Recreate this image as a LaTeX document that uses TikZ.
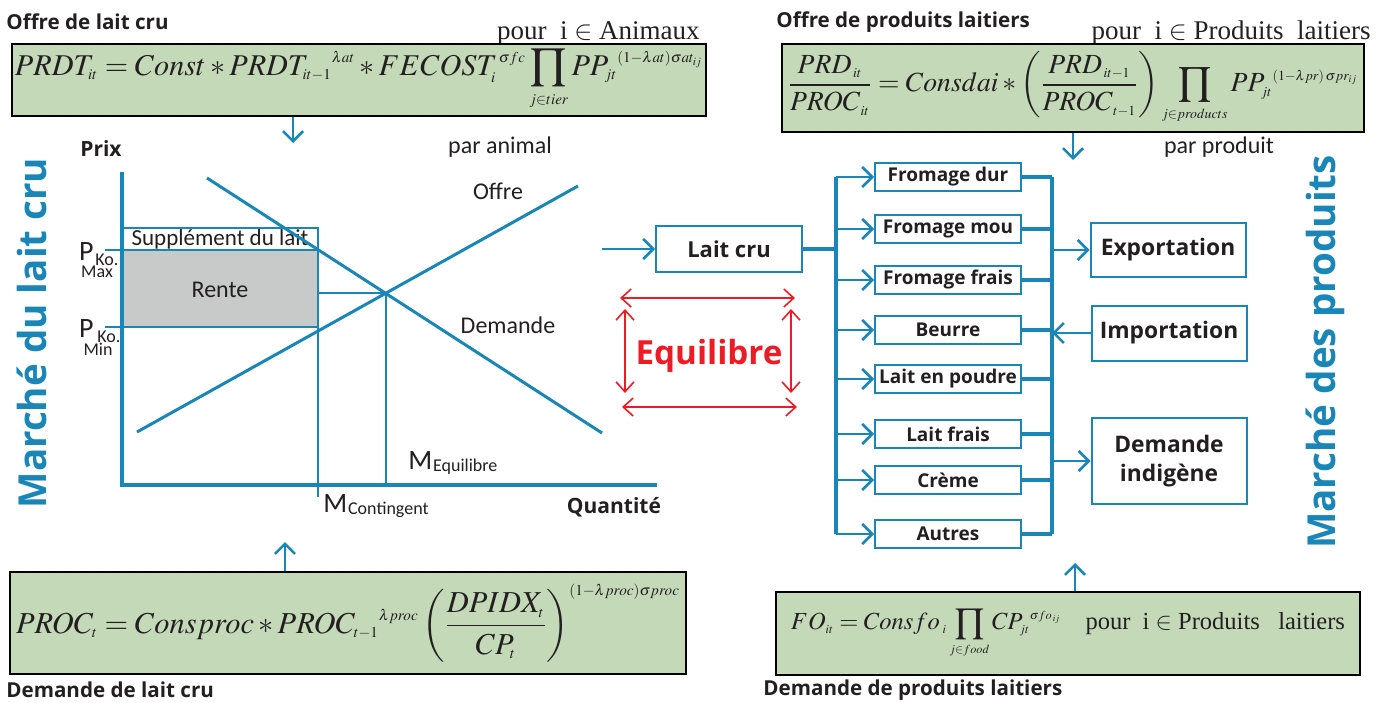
\documentclass[tikz,border=0pt]{standalone}
\usepackage{amsmath}
\usepackage{mathptmx}
\usepackage[no-math]{fontspec}
\usepackage{graphicx}
\usetikzlibrary{arrows.meta}
\setmainfont{Open Sans}
\newfontfamily\chartfont{Carlito}
\newfontfamily\tms{Liberation Serif}
\DeclareMathSizes{16}{16}{8}{6}
\newcommand{\eqsize}{\fontsize{16}{19}\selectfont}
\definecolor{mblue}{RGB}{26,134,184}
\definecolor{mgreen}{RGB}{195,217,184}
\definecolor{mred}{RGB}{237,28,36}
\definecolor{mgray}{RGB}{200,201,201}
\definecolor{mtext}{RGB}{35,31,32}

\begin{document}
\begin{tikzpicture}[x=0.5pt,y=-0.5pt,
    every node/.style={text=mtext,inner sep=0pt},
    eqbox/.style={draw=black,line width=0.8pt,fill=mgreen,font=\eqsize},
    prod/.style={draw=mblue,line width=1pt,minimum width=73pt,minimum height=14pt,font=\fontsize{9.5}{11}\selectfont\bfseries},
    bigbox/.style={draw=mblue,line width=1pt,minimum width=77.5pt,align=center,font=\fontsize{11.4}{14.5}\selectfont\bfseries},
    head/.style={anchor=west,font=\fontsize{10.3}{12}\selectfont\bfseries},
    lab/.style={font=\chartfont\fontsize{12}{14}\selectfont},
    sub/.style={font=\chartfont\fontsize{9}{10}\selectfont},
    big/.style={font=\chartfont\fontsize{14}{16}\selectfont},
    pour/.style={anchor=east,font=\tms\fontsize{13.5}{16}\selectfont},
    title/.style={rotate=90,text=mblue,font=\fontsize{19.3}{23}\selectfont\bfseries},
    flow/.style={draw=mblue,line width=1.3pt,-{Straight Barb[length=5pt,width=10pt]}},
    trunk/.style={draw=mblue,line width=1.75pt},
    guide/.style={draw=mblue,line width=1pt},
    curve/.style={draw=mblue,line width=1.5pt},
    eqarr/.style={draw=mred,line width=0.8pt,{Straight Barb[length=5pt,width=9pt]}-{Straight Barb[length=5pt,width=9pt]}}]

\useasboundingbox (0,0) rectangle (1385,702);

% --- equations of the four blocks ---
\node[head] (offlaitlab) at (6,22) {Offre de lait cru};
\node[pour] (pourani) at (700,33) {pour\ \ i $\in$ Animaux};
\node[eqbox,minimum width=347pt,minimum height=36pt] (offlait) at (359,80)
  {\resizebox{344pt}{!}{$\displaystyle PRDT_{it} = Const * PRDT_{it-1}{}^{\lambda at} * FECOST_i^{\,\sigma fc}\prod_{j\in tier}PP_{jt}{}^{(1-\lambda at)\sigma at_{ij}}$}};

\node[head] (offprodlab) at (776,22) {Offre de produits laitiers};
\node[pour] (pourprod) at (1371,33) {pour\ \ i $\in$ Produits\ \ laitiers};
\node[eqbox,minimum width=291pt,minimum height=44pt] (offprod) at (1073,88)
  {\resizebox{285pt}{!}{$\displaystyle \frac{PRD_{\,it}}{PROC_{\,it}} = Consdai * \left(\frac{PRD_{\,it-1}}{PROC_{\,t-1}}\right)\prod_{j\in products}PP_{jt}{}^{(1-\lambda pr)\,\sigma pr_{ij}}$}};

\node[eqbox,minimum width=338pt,minimum height=51pt] (demlait) at (348,623)
  {\resizebox{332pt}{!}{$\displaystyle PROC_t = Consproc * PROC_{t-1}{}^{\lambda proc}\left(\frac{DPIDX_t}{CP_t}\right)^{(1-\lambda proc)\sigma proc}$}};
\node[head] (demlaitlab) at (6,690) {Demande de lait cru};

\node[eqbox,minimum width=292pt,minimum height=41.5pt] (demprod) at (1068,633.5)
  {\resizebox{277pt}{!}{$\displaystyle FO_{it} = Consfo_{\;i}\prod_{j\in food}CP_{jt}{}^{\sigma fo_{\,ij}}$\quad{\tms pour\ \ i $\in$ Produits\ \ \ laitiers}}\hspace{8pt}};
\node[head] (demprodlab) at (763,690) {Demande de produits laitiers};

\draw[flow] (offlait.south -| 293,0) -- (293,143);
\draw[flow] (offprod.south -| 1073,0) -- (1073,160);
\draw[flow] (demlait.north -| 285,0) -- (285,542);
\draw[flow] (demprod.north -| 1075,0) -- (1075,563);

% --- raw milk market ---
\node[title] (mlait) at (32,333) {Marché du lait cru};
\node[anchor=north,font=\fontsize{10.5}{13}\selectfont\bfseries] (prix) at (101,140) {Prix};
\node[anchor=north,font=\fontsize{10.5}{13}\selectfont\bfseries] (quant) at (614,497) {Quantité};
\node[lab] (parani) at (500,147) {par animal};

\coordinate (o) at (122,485);
\coordinate (d1) at (207,178);
\coordinate (d2) at (602,433);
\coordinate (s1) at (137,432);
\coordinate (s2) at (578,186);
\coordinate (mc) at (318,497);

\filldraw[fill=mgray,draw=mblue,line width=0.8pt] (122,250) rectangle (318,327);
\draw[guide] (122,228) rectangle (318,250);
\node[lab,font=\chartfont\fontsize{11.5}{13}\selectfont] (suppl) at (220,239) {Supplément du lait};
\node[lab] (rente) at (220,290) {Rente};
\draw[guide] (105,250) -- (318,250);
\draw[guide] (105,327) -- (318,327);

\draw[curve] (d1) -- (d2);
\draw[curve] (s1) -- (s2);
\coordinate (eqpt) at (intersection of d1--d2 and s1--s2);
\draw[guide] (318,228) -- (mc);
\draw[guide] (eqpt -| mc) -- (eqpt) -- (eqpt |- o);
\draw[mblue,line width=2pt] (122,172) -- (o) -- (657,485);

\node[lab] (offre) at (498,191) {Offre};
\node[lab] (demande) at (508,325) {Demande};

\node[big,anchor=east] (pmax) at (94,252) {P};
\node[sub,anchor=west] (pmaxko) at (95,260) {Ko.};
\node[sub] (pmaxmx) at (97,272) {Max};
\node[big,anchor=east] (pmin) at (94,329) {P};
\node[sub,anchor=west] (pminko) at (97,337) {Ko.};
\node[sub] (pminmn) at (98,349) {Min};

\node[big,anchor=west] (meq) at (408,461) {M};
\node[sub,anchor=west] (meqsub) at (meq.east) [yshift=-3pt] {Equilibre};
\node[big,anchor=west] (mcont) at (323,504) {M};
\node[sub,anchor=west] (mcontsub) at (mcont.east) [yshift=-3pt] {Contingent};

% --- equilibrium ---
\node[text=mred,font=\fontsize{16.6}{20}\selectfont\bfseries] (equil) at (709,356) {Equilibre};
\draw[eqarr] (620,298) -- (795,298);
\draw[eqarr] (622,407) -- (797,407);
\draw[eqarr] (625,309) -- (625,393);
\draw[eqarr] (791,309) -- (791,393);

% --- dairy products market ---
\node[title] (mprod) at (1325,352) {Marché des produits};
\node[lab] (parprod) at (1219,147) {par produit};

\node[bigbox,minimum width=73pt,minimum height=23pt,font=\fontsize{11}{14}\selectfont\bfseries] (laitcru) at (729,249) {Lait cru};
\draw[flow] (laitcru.west -| 602,0) -- (laitcru.west);

\coordinate (lt) at (836,0);
\coordinate (rt) at (1052,0);
\foreach \nm/\lab/\yy in {fdur/Fromage dur/177,fmou/Fromage mou/229,ffrais/Fromage frais/280,
    beurre/Beurre/330,poudre/Lait en poudre/379,lfrais/Lait frais/434,creme/Crème/480,autres/Autres/534}{
  \node[prod] (\nm) at (948,\yy) {\lab};
  \draw[flow] (\nm.west -| lt) -- (\nm.west);
  \draw[trunk] (\nm.east) -- (\nm.east -| rt);
}
\draw[trunk] (laitcru.east) -- (laitcru.east -| lt);
\draw[trunk] (fdur.west -| lt) -- (autres.west -| lt);
\draw[trunk] (fdur.east -| rt) -- (autres.east -| rt);

\node[bigbox,minimum height=27pt] (export) at (1168,250) {Exportation};
\node[bigbox,minimum height=27.5pt] (import) at (1169,333) {Importation};
\node[bigbox,minimum height=43pt] (demind) at (1169,461) {Demande\\indigène};
\draw[flow] (export.west -| rt) -- (export.west);
\draw[flow] (import.west) -- (import.west -| rt);
\draw[flow] (demind.west -| rt) -- (demind.west);
\end{tikzpicture}
\end{document}
